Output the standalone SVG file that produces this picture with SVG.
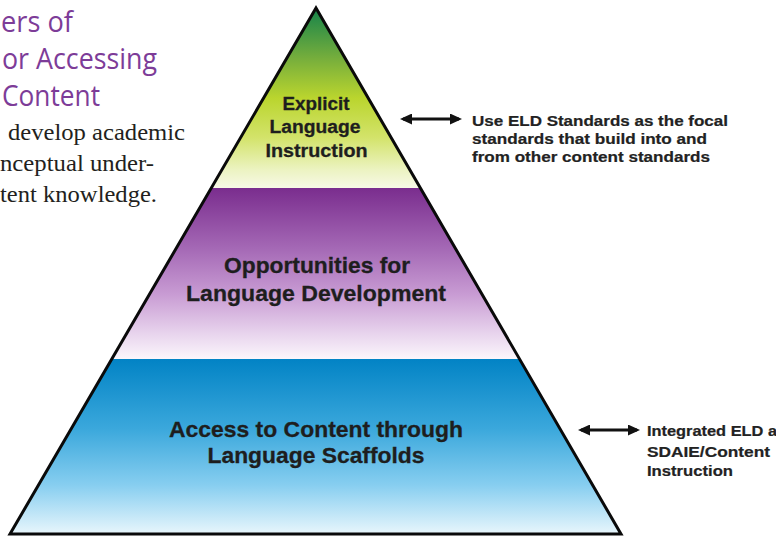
<svg xmlns="http://www.w3.org/2000/svg" width="776" height="540" viewBox="0 0 776 540">
  <style>
    .head { font-family: "Open Sans", "Noto Sans", sans-serif; font-size: 28.5px; fill: #7d3c98; }
    .body { font-family: "Liberation Serif", "Times New Roman", serif; font-size: 23px; fill: #231f20; }
    .tier-s { font-family: "Liberation Sans", Arial, sans-serif; font-weight: bold; font-size: 18px; fill: #1e1e1e; text-anchor: middle; stroke: #1e1e1e; stroke-width: 0.3; }
    .tier-l { font-family: "Liberation Sans", Arial, sans-serif; font-weight: bold; font-size: 22px; fill: #1e1e1e; text-anchor: middle; stroke: #1e1e1e; stroke-width: 0.3; }
    .note { font-family: "Liberation Sans", Arial, sans-serif; font-weight: bold; font-size: 14px; fill: #222222; stroke: #222222; stroke-width: 0.2; }
    .conn { stroke: #111111; stroke-width: 3; fill: none; }
    .edge { stroke: #0a0a0a; stroke-width: 3; fill: none; stroke-linejoin: miter; stroke-miterlimit: 20; }
  </style>
  <defs>
    <linearGradient id="gTop" gradientUnits="userSpaceOnUse" x1="0" y1="8" x2="0" y2="188">
      <stop offset="0" stop-color="#15834a"/>
      <stop offset="0.28" stop-color="#76ae3c"/>
      <stop offset="0.5" stop-color="#bad52e"/>
      <stop offset="0.72" stop-color="#d3e36a"/>
      <stop offset="0.9" stop-color="#ecf3c2"/>
      <stop offset="1" stop-color="#f7f9e6"/>
    </linearGradient>
    <linearGradient id="gMid" gradientUnits="userSpaceOnUse" x1="0" y1="188" x2="0" y2="359">
      <stop offset="0" stop-color="#7a2d8e"/>
      <stop offset="0.35" stop-color="#a468b5"/>
      <stop offset="0.62" stop-color="#c89bd3"/>
      <stop offset="0.86" stop-color="#e9d6ee"/>
      <stop offset="1" stop-color="#fbf6fb"/>
    </linearGradient>
    <linearGradient id="gBot" gradientUnits="userSpaceOnUse" x1="0" y1="359" x2="0" y2="534">
      <stop offset="0" stop-color="#0283c5"/>
      <stop offset="0.4" stop-color="#3ba8dc"/>
      <stop offset="0.72" stop-color="#87cef0"/>
      <stop offset="1" stop-color="#e8f6fc"/>
    </linearGradient>
    <marker id="head" viewBox="0 0 12 11" refX="9" refY="5.5" markerWidth="12" markerHeight="11" markerUnits="userSpaceOnUse" orient="auto-start-reverse">
      <path d="M0,0 L12,5.5 L0,11 Z" fill="#111111"/>
    </marker>
  </defs>

  <g id="heading">
    <text class="head" x="1" y="31.5" textLength="72" lengthAdjust="spacingAndGlyphs">ers of</text>
    <text class="head" x="2" y="68.5" textLength="155" lengthAdjust="spacingAndGlyphs">or Accessing</text>
    <text class="head" x="2" y="106" textLength="98" lengthAdjust="spacingAndGlyphs">Content</text>
  </g>

  <g id="body-text">
    <text class="body" x="8" y="140" textLength="177" lengthAdjust="spacingAndGlyphs">develop academic</text>
    <text class="body" x="0" y="171" textLength="154" lengthAdjust="spacingAndGlyphs">nceptual under-</text>
    <text class="body" x="0" y="202" textLength="157" lengthAdjust="spacingAndGlyphs">tent knowledge.</text>
  </g>

  <g id="tier-explicit-language-instruction">
    <polygon points="316,8 420.4,188 211.3,188" fill="url(#gTop)"/>
    <text class="tier-s" x="316" y="110" textLength="67" lengthAdjust="spacingAndGlyphs">Explicit</text>
    <text class="tier-s" x="315" y="133" textLength="91" lengthAdjust="spacingAndGlyphs">Language</text>
    <text class="tier-s" x="316.5" y="157" textLength="102" lengthAdjust="spacingAndGlyphs">Instruction</text>
  </g>

  <g id="tier-opportunities-for-language-development">
    <polygon points="211.3,188 420.4,188 519.5,359 111.8,359" fill="url(#gMid)"/>
    <text class="tier-l" x="317" y="273" textLength="186" lengthAdjust="spacingAndGlyphs">Opportunities for</text>
    <text class="tier-l" x="316" y="301" textLength="260" lengthAdjust="spacingAndGlyphs">Language Development</text>
  </g>

  <g id="tier-access-to-content">
    <polygon points="111.8,359 519.5,359 621,534 10,534" fill="url(#gBot)"/>
    <text class="tier-l" x="316" y="437" textLength="294" lengthAdjust="spacingAndGlyphs">Access to Content through</text>
    <text class="tier-l" x="316" y="463" textLength="217" lengthAdjust="spacingAndGlyphs">Language Scaffolds</text>
  </g>

  <g id="pyramid-outline">
    <path class="edge" d="M316,8 L621,534 L10,534 Z"/>
  </g>

  <g id="note-eld-standards">
    <text class="note" x="472" y="126" textLength="256" lengthAdjust="spacingAndGlyphs">Use ELD Standards as the focal</text>
    <text class="note" x="472" y="144" textLength="235" lengthAdjust="spacingAndGlyphs">standards that build into and</text>
    <text class="note" x="472" y="162" textLength="238" lengthAdjust="spacingAndGlyphs">from other content standards</text>
  </g>

  <g id="note-integrated">
    <text class="note" x="647" y="436" textLength="150" lengthAdjust="spacingAndGlyphs">Integrated ELD and</text>
    <text class="note" x="647" y="457" textLength="123" lengthAdjust="spacingAndGlyphs">SDAIE/Content</text>
    <text class="note" x="647" y="476" textLength="86" lengthAdjust="spacingAndGlyphs">Instruction</text>
  </g>

  <g id="connectors">
    <line class="conn" x1="403" y1="119" x2="459" y2="119" marker-start="url(#head)" marker-end="url(#head)"/>
    <line class="conn" x1="581" y1="430" x2="637" y2="430" marker-start="url(#head)" marker-end="url(#head)"/>
  </g>
</svg>
